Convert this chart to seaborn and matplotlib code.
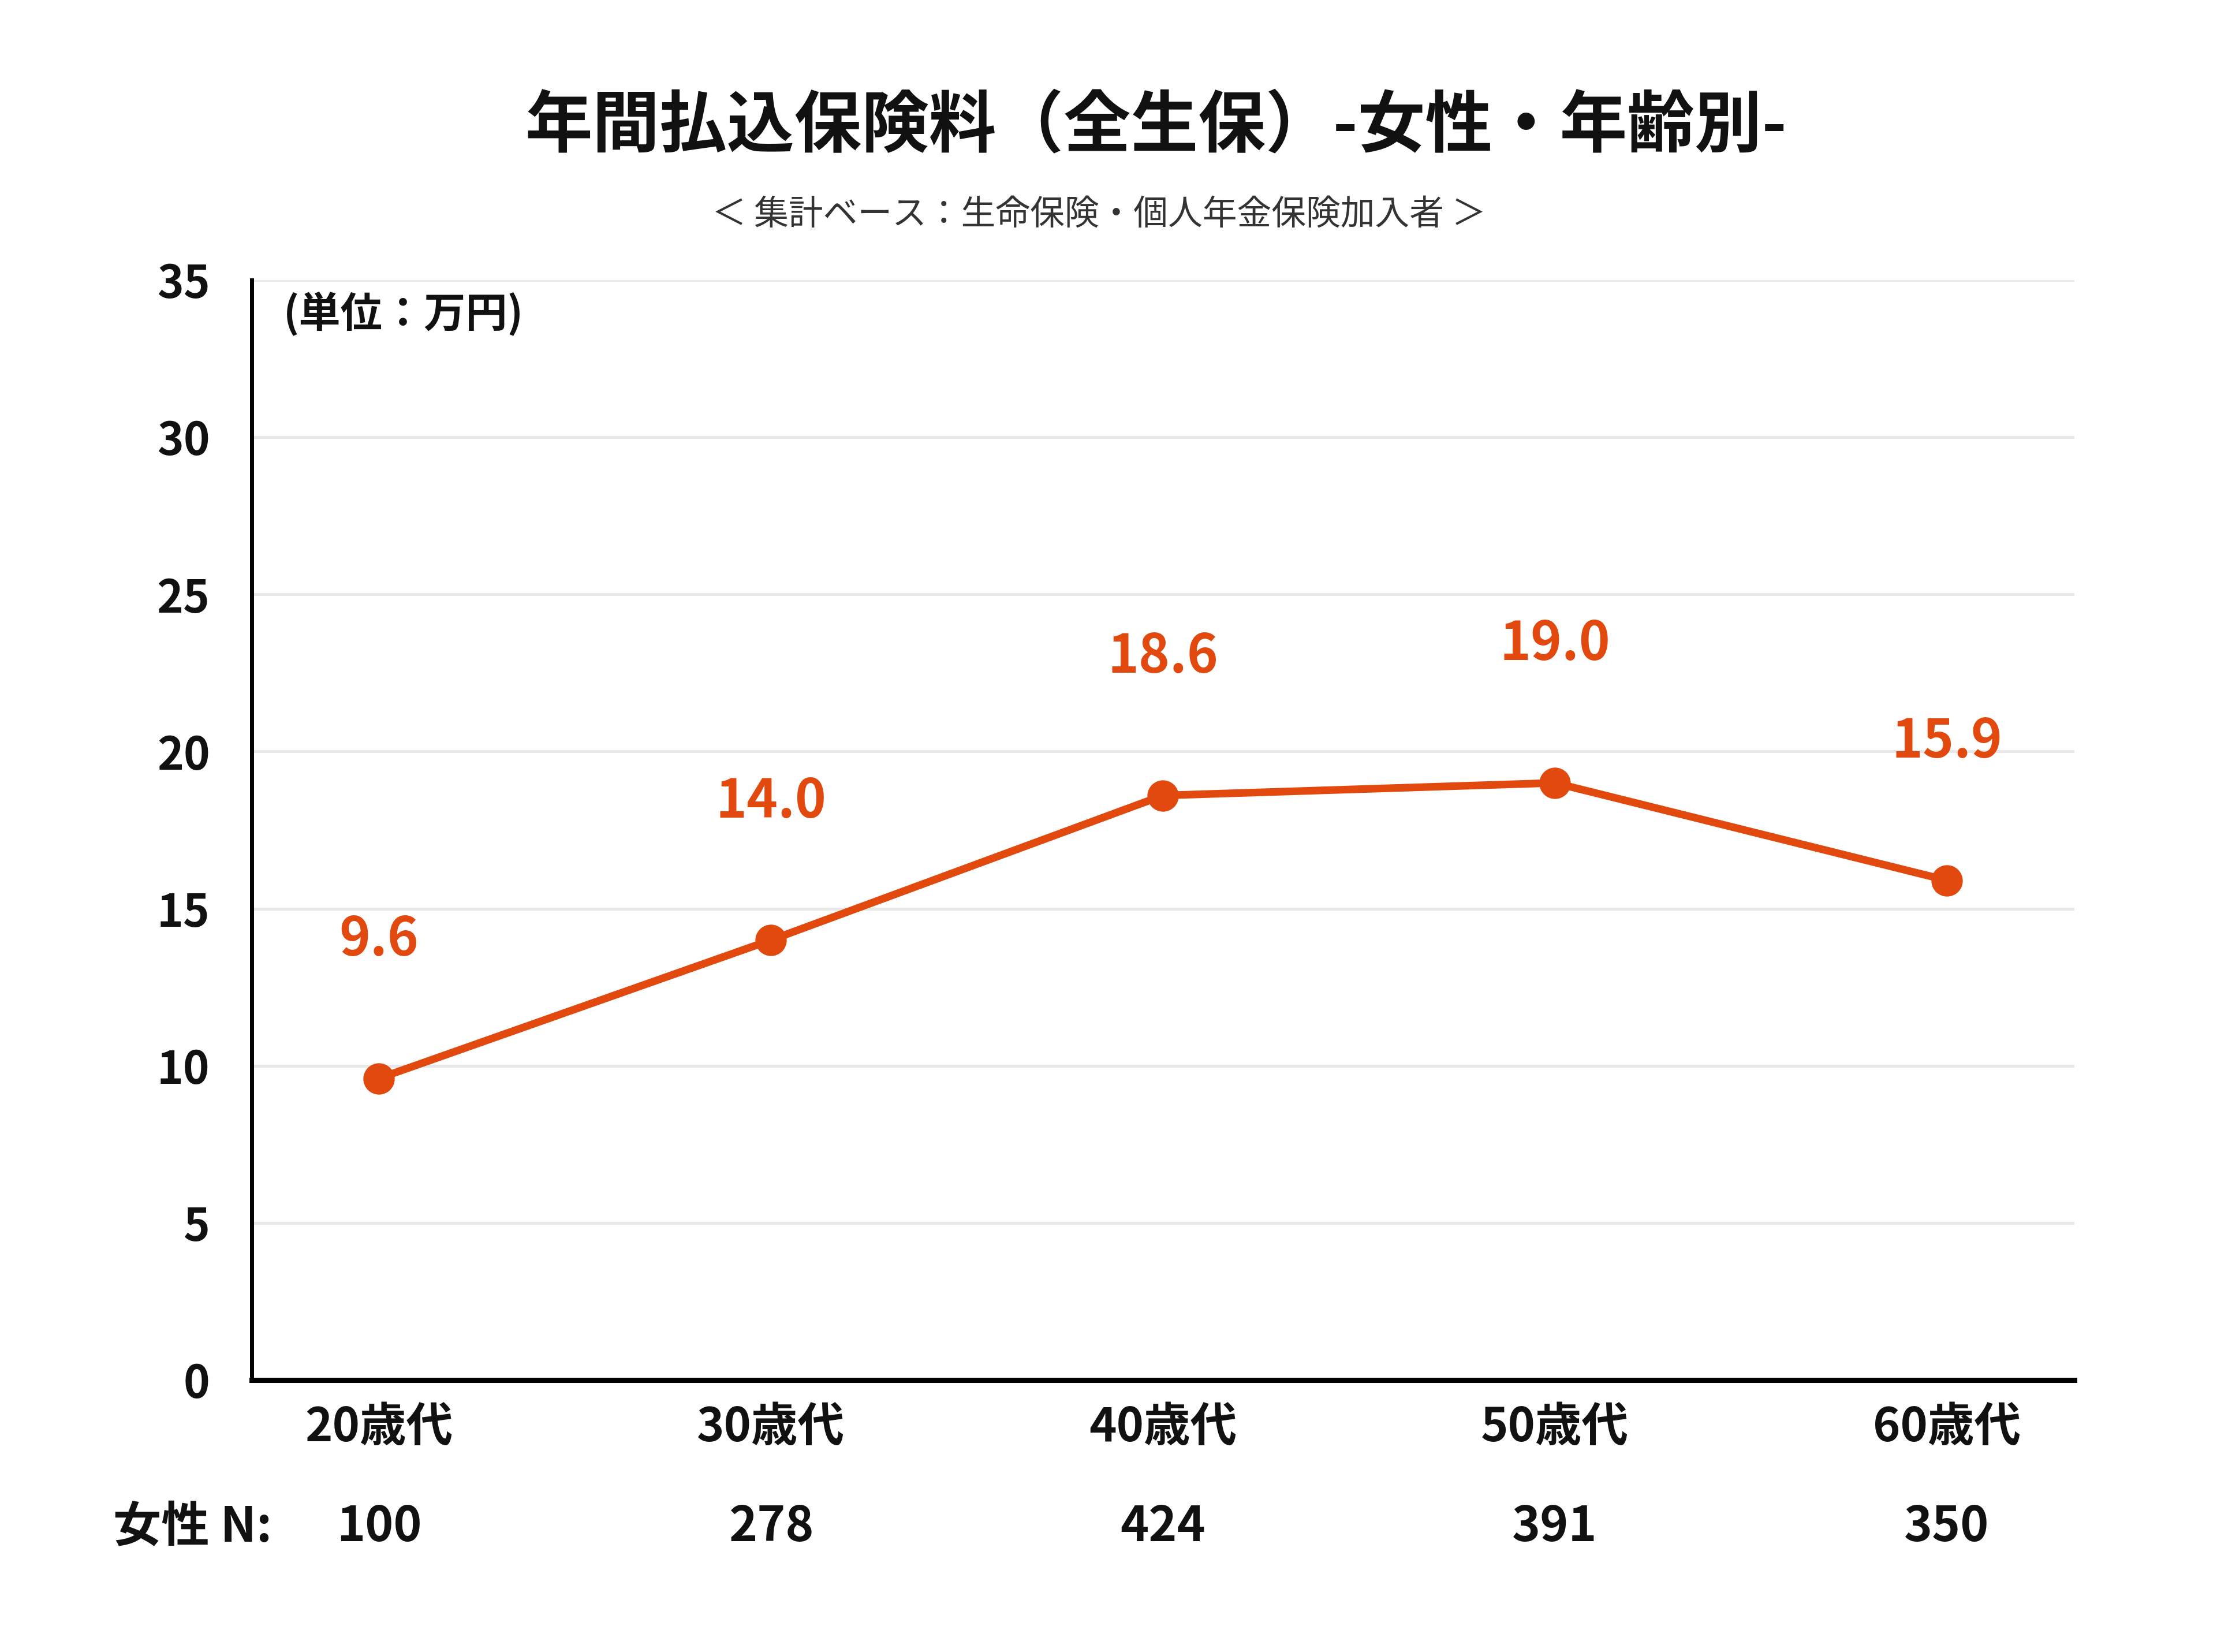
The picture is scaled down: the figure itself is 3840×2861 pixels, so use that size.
import matplotlib
matplotlib.use("Agg")
import matplotlib.pyplot as plt
import matplotlib.transforms as mtransforms
import seaborn as sns
import pandas as pd

# ---- data ----
categories = ["20歳代", "30歳代", "40歳代", "50歳代", "60歳代"]
values = [9.6, 14.0, 18.6, 19.0, 15.9]
n_counts = ["100", "278", "424", "391", "350"]
y_ticks = [0, 5, 10, 15, 20, 25, 30, 35]

title = "年間払込保険料（全生保）-女性・年齢別-"
subtitle = "＜ 集計ベース：生命保険・個人年金保険加入者 ＞"
unit_text = "(単位：万円)"
n_label = "女性 N:"

LINE_COLOR = "#E2490F"
TEXT_W = "semibold"

sns.set_theme(style="white")
plt.rcParams["font.family"] = ["Noto Sans CJK JP", "DejaVu Sans"]

df = pd.DataFrame({"age": categories, "value": values})

fig = plt.figure(figsize=(38.4, 28.61), dpi=100)
ax = fig.add_axes([0.1135, 0.1646, 0.8221, 0.6659])

sns.pointplot(data=df, x="age", y="value", ax=ax, color=LINE_COLOR,
              markers="o", linestyles="-", markersize=32, linewidth=9.5,
              errorbar=None)

ax.set_xlim(-0.325, 4.325)
ax.set_ylim(0, 35)
ax.set_yticks(y_ticks)
ax.set_yticklabels([str(t) for t in y_ticks], fontsize=56, fontweight=TEXT_W,
                   color="#111111")
ax.set_xticks(range(len(categories)))
ax.set_xticklabels(categories, fontsize=58, fontweight=TEXT_W, color="#111111")
ax.tick_params(axis="y", length=0, pad=52)
ax.tick_params(axis="x", length=0, pad=30)
ax.set_xlabel("")
ax.set_ylabel("")

for t in y_ticks[1:]:
    ax.axhline(t, color="#E8E8E8", linewidth=3.5, zorder=0)

for s in ["top", "right"]:
    ax.spines[s].set_visible(False)
ax.spines["left"].set_color("black")
ax.spines["left"].set_linewidth(5)
ax.spines["bottom"].set_color("black")
ax.spines["bottom"].set_linewidth(6.5)

# data labels
for i, v in enumerate(values):
    ax.text(i, v + 4.4, f"{v:.1f}", ha="center", va="center",
            fontsize=66, color=LINE_COLOR, fontweight=TEXT_W)

# unit text
ax.text(0.0174, 33.9, unit_text,
        transform=mtransforms.blended_transform_factory(ax.transAxes, ax.transData),
        ha="left", va="center", fontsize=52, fontweight=TEXT_W, color="#111111")

# N row
trans = mtransforms.blended_transform_factory(ax.transData, fig.transFigure)
for i, n in enumerate(n_counts):
    ax.text(i, 0.0755, n, transform=trans, ha="center", va="center",
            fontsize=60, fontweight=TEXT_W, color="#111111")
fig.text(0.051, 0.0755, n_label, ha="left", va="center", fontsize=60,
         fontweight=TEXT_W, color="#111111")

# titles
fig.text(0.5216, 0.923, title, ha="center", va="center", fontsize=84,
         fontweight="bold", color="#111111")
fig.text(0.4956, 0.870, subtitle, ha="center", va="center", fontsize=43,
         color="#333333")

fig.savefig("out.png", dpi=100, facecolor="white")
